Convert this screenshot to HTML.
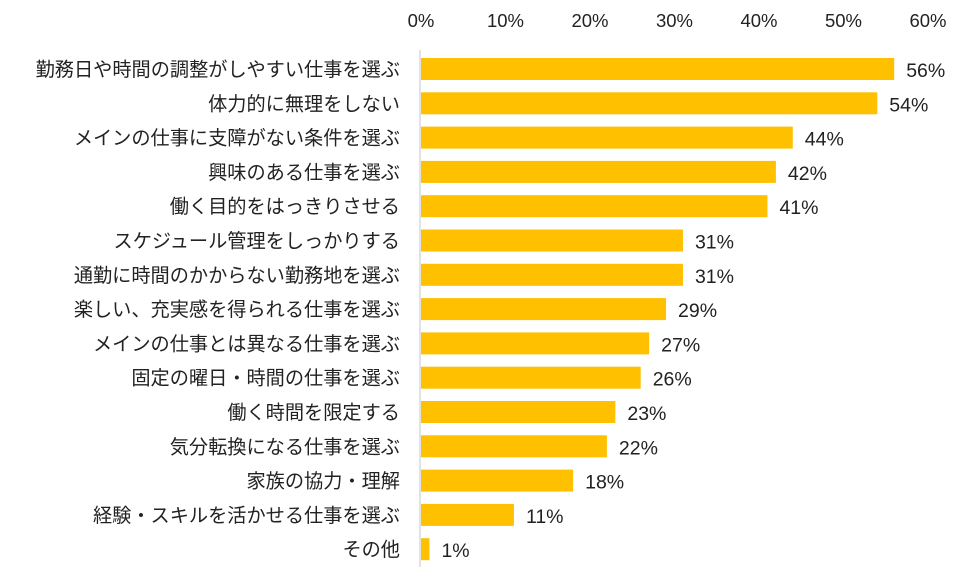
<!DOCTYPE html>
<html><head><meta charset="utf-8"><style>
body{margin:0;background:#fff;}
svg text{font-family:"Liberation Sans","Noto Sans CJK JP",sans-serif;fill:#222;}
</style></head><body>
<svg width="976" height="567">
<g id="ticks"></g>
<line x1="420" y1="50" x2="420" y2="567" stroke="#d9d9d9" stroke-width="1.5"/>
<g id="bars"></g>
</svg>
<script>
const categories=["勤務日や時間の調整がしやすい仕事を選ぶ","体力的に無理をしない","メインの仕事に支障がない条件を選ぶ","興味のある仕事を選ぶ","働く目的をはっきりさせる","スケジュール管理をしっかりする","通勤に時間のかからない勤務地を選ぶ","楽しい、充実感を得られる仕事を選ぶ","メインの仕事とは異なる仕事を選ぶ","固定の曜日・時間の仕事を選ぶ","働く時間を限定する","気分転換になる仕事を選ぶ","家族の協力・理解","経験・スキルを活かせる仕事を選ぶ","その他"];
const values=[56,54,44,42,41,31,31,29,27,26,23,22,18,11,1];
const tickValues=[0,10,20,30,40,50,60];
const NS="http://www.w3.org/2000/svg";
const x=v=>421+v*8.45;
const y=i=>58+i*34.3;
const tg=document.getElementById('ticks'),bg=document.getElementById('bars');
tickValues.forEach(t=>{
 const e=document.createElementNS(NS,'text');
 e.setAttribute('x',x(t));e.setAttribute('y',27);e.setAttribute('text-anchor','middle');e.setAttribute('font-size','18.5');
 e.textContent=t+'%';
 
 
 tg.appendChild(e);
});
categories.forEach((c,i)=>{
 const r=document.createElementNS(NS,'rect');
 r.setAttribute('x',x(0));r.setAttribute('y',y(i));r.setAttribute('width',x(values[i])-x(0));r.setAttribute('height',22);r.setAttribute('fill','#FFC000');
 
 
 bg.appendChild(r);
 const l=document.createElementNS(NS,'text');
 l.setAttribute('x',400);l.setAttribute('y',y(i)+18);l.setAttribute('text-anchor','end');l.setAttribute('font-size','19.2');
 l.textContent=c;
 
 
 bg.appendChild(l);
 const v=document.createElementNS(NS,'text');
 v.setAttribute('x',x(values[i])+12);v.setAttribute('y',y(i)+19);v.setAttribute('font-size','19.5');
 v.textContent=values[i]+'%';
 
 
 bg.appendChild(v);
});
</script>
</body></html>
